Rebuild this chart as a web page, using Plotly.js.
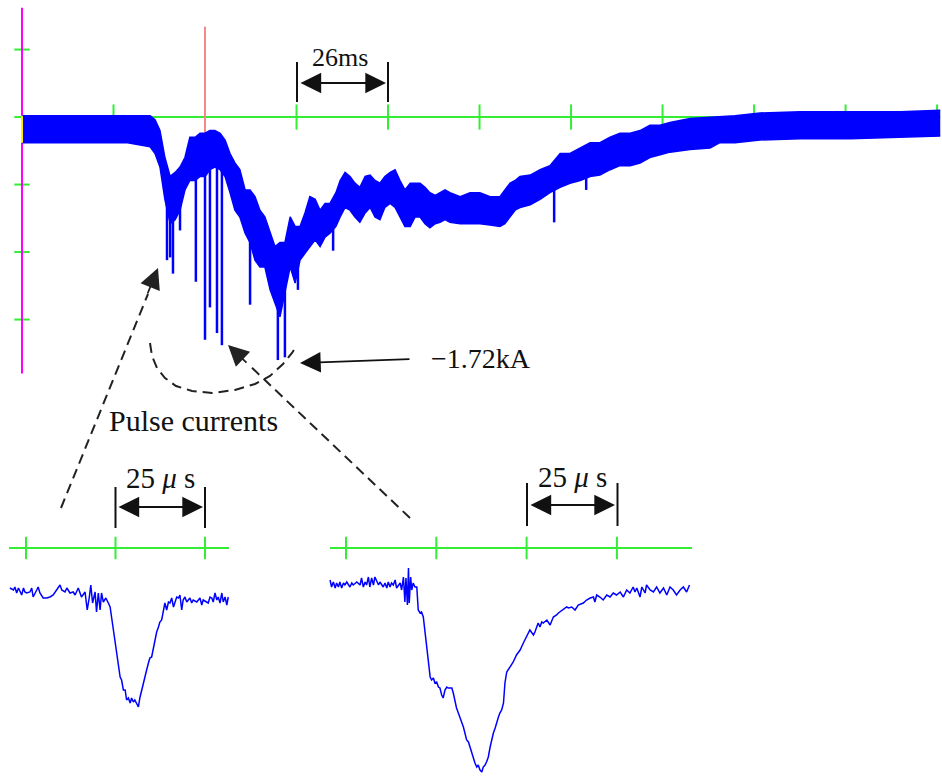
<!DOCTYPE html>
<html><head><meta charset="utf-8">
<script src="https://cdn.plot.ly/plotly-3.0.1.min.js"></script>
<style>html,body{margin:0;padding:0;background:#fff}#chart{width:942px;height:776px}</style>
</head><body><div id="chart"></div>
<script>
// ---- main record: time (ms), current (kA); noisy trace given by its upper/lower band edges
const mainTime = [0, 10.0, 20.0, 30.0, 36.4, 37.8, 39.2, 40.6, 42.1, 43.5, 44.9, 46.3, 47.7, 49.2, 50.6, 52.0, 53.4, 54.8, 56.3, 57.7, 59.1, 60.5, 61.9, 63.4, 64.8, 66.2, 67.6, 69.0, 70.5, 71.9, 73.3, 74.7, 76.2, 77.6, 79.0, 80.4, 81.8, 83.3, 84.7, 86.1, 87.5, 89.2, 90.4, 91.8, 93.2, 94.6, 96.0, 97.5, 98.9, 100.3, 101.7, 103.1, 104.6, 106.0, 107.4, 108.8, 110.3, 111.7, 113.1, 114.5, 115.9, 117.4, 118.8, 120.2, 121.6, 124.5, 127.3, 130.1, 133.0, 135.8, 137.2, 138.7, 140.1, 141.5, 144.4, 147.2, 150.0, 152.9, 155.7, 158.6, 161.4, 164.2, 167.1, 169.9, 172.8, 175.6, 178.4, 181.3, 184.1, 189.8, 195.5, 198.3, 202.6, 209.7, 221.1, 235.3, 249.5, 260.9];
const mainUpper = [0.01, 0.01, 0.01, 0.01, 0.01, -0.02, -0.10, -0.30, -0.44, -0.41, -0.37, -0.30, -0.15, -0.15, -0.12, -0.12, -0.10, -0.10, -0.12, -0.17, -0.27, -0.34, -0.39, -0.54, -0.54, -0.59, -0.69, -0.74, -0.86, -0.96, -0.93, -0.93, -0.74, -0.81, -0.81, -0.71, -0.59, -0.61, -0.69, -0.64, -0.64, -0.56, -0.47, -0.41, -0.44, -0.49, -0.52, -0.44, -0.43, -0.47, -0.49, -0.44, -0.41, -0.39, -0.47, -0.54, -0.49, -0.49, -0.49, -0.52, -0.56, -0.58, -0.56, -0.54, -0.56, -0.59, -0.56, -0.56, -0.59, -0.59, -0.54, -0.49, -0.47, -0.44, -0.43, -0.39, -0.36, -0.27, -0.27, -0.23, -0.19, -0.19, -0.15, -0.12, -0.12, -0.10, -0.06, -0.06, -0.04, -0.01, 0.00, 0.00, 0.01, 0.03, 0.04, 0.04, 0.04, 0.05];
const mainLower = [-0.19, -0.19, -0.19, -0.19, -0.22, -0.27, -0.37, -0.61, -0.79, -0.76, -0.69, -0.54, -0.47, -0.47, -0.44, -0.44, -0.39, -0.37, -0.39, -0.44, -0.56, -0.69, -0.74, -0.86, -0.93, -1.06, -1.11, -1.11, -1.28, -1.38, -1.48, -1.30, -1.11, -1.23, -1.06, -1.01, -0.96, -0.91, -0.96, -0.89, -0.86, -0.81, -0.74, -0.67, -0.69, -0.74, -0.78, -0.71, -0.67, -0.74, -0.76, -0.67, -0.64, -0.67, -0.74, -0.81, -0.81, -0.74, -0.74, -0.79, -0.82, -0.79, -0.78, -0.76, -0.78, -0.79, -0.79, -0.79, -0.80, -0.81, -0.79, -0.74, -0.69, -0.67, -0.65, -0.61, -0.56, -0.52, -0.49, -0.47, -0.44, -0.43, -0.39, -0.36, -0.36, -0.34, -0.30, -0.28, -0.26, -0.24, -0.23, -0.19, -0.19, -0.17, -0.16, -0.16, -0.15, -0.14];
// pulse current spikes (ms, kA)
const spikeTime   = [41.2, 42.1, 42.9, 44.9, 49.4, 52.0, 53.4, 55.4, 56.8, 64.8, 72.7, 74.7, 78.4, 88.4, 151.2, 160.3];
const spikeTop    = [-0.54, -0.61, -0.69, -0.54, -0.32, -0.32, -0.32, -0.32, -0.32, -0.76, -1.28, -1.21, -0.99, -0.76, -0.54, -0.39];
const spikeBottom = [-1.06, -1.04, -1.16, -0.84, -1.22, -1.65, -1.41, -1.60, -1.69, -1.39, -1.80, -1.78, -1.28, -0.99, -0.78, -0.54];
const timeTicks = [26, 52, 78, 104, 130, 156, 182, 208, 234, 260];   // 26 ms / div
const currentTicks = [0.5, 0, -0.5, -1.0, -1.5];                      // 0.5 kA / div
const triggerTime = 52;

// ---- zoomed pulses: time (us), current (kA)
const pulse1Time = [-4.5,-3.5,-3.1,-2.6,-2.1,-1.7,-1.2,-0.7,-0.3,0.2,1.1,1.6,2.0,3.0,3.4,3.9,4.8,5.8,6.7,7.6,8.6,9.5,10.0,10.9,11.4,12.3,13.2,13.7,14.6,15.5,16.5,17.1,17.7,18.1,18.6,19.3,19.7,20.2,20.7,21.1,21.6,22.3,23.0,23.5,23.9,24.4,24.9,25.3,25.8,26.3,26.7,27.2,27.7,28.1,28.6,29.1,29.5,30.0,30.4,30.9,31.4,31.8,32.3,32.8,33.2,33.7,34.2,34.6,35.1,35.6,36.0,36.5,37.0,37.4,37.9,38.4,38.8,39.3,39.8,40.2,40.7,41.2,41.6,42.1,42.6,43.0,43.5,43.9,44.4,44.9,45.8,46.3,46.7,47.7,48.6,49.1,49.5,50.5,50.9,51.4,51.9,52.3,52.8,53.3,53.7,54.2,54.7,55.1,55.6,56.1,56.5];
const pulse1Current = [-0.40,-0.42,-0.39,-0.45,-0.40,-0.44,-0.47,-0.40,-0.44,-0.45,-0.44,-0.40,-0.49,-0.42,-0.39,-0.45,-0.50,-0.50,-0.49,-0.47,-0.42,-0.37,-0.42,-0.44,-0.40,-0.45,-0.44,-0.47,-0.40,-0.49,-0.44,-0.62,-0.49,-0.37,-0.55,-0.44,-0.64,-0.45,-0.62,-0.45,-0.54,-0.50,-0.55,-0.59,-0.69,-0.82,-0.95,-1.05,-1.15,-1.29,-1.32,-1.42,-1.42,-1.52,-1.50,-1.55,-1.50,-1.54,-1.52,-1.55,-1.59,-1.50,-1.42,-1.35,-1.29,-1.22,-1.15,-1.10,-1.09,-0.99,-0.90,-0.84,-0.79,-0.74,-0.72,-0.62,-0.55,-0.62,-0.54,-0.55,-0.50,-0.59,-0.54,-0.49,-0.50,-0.47,-0.62,-0.52,-0.49,-0.54,-0.50,-0.55,-0.52,-0.54,-0.50,-0.57,-0.52,-0.54,-0.55,-0.49,-0.50,-0.54,-0.45,-0.52,-0.49,-0.55,-0.45,-0.54,-0.49,-0.57,-0.49];
const pulse2Time = [-4.4,-4.0,-3.5,-3.0,-2.6,-2.1,-1.7,-1.2,-0.7,-0.3,0.2,1.1,1.6,2.0,3.0,3.9,4.3,4.8,5.3,5.7,6.2,6.6,7.1,7.6,8.0,9.0,9.4,10.3,10.8,11.3,11.7,12.2,12.6,13.1,13.6,14.0,15.0,15.4,15.9,16.3,16.6,17.0,17.3,17.5,17.9,18.2,18.6,19.1,19.6,20.0,20.5,20.9,21.4,21.9,22.3,22.8,23.3,23.7,24.2,24.6,25.1,25.6,26.0,26.5,26.9,27.4,27.9,28.3,29.3,29.7,30.2,30.6,31.1,31.6,32.0,32.5,32.9,33.4,33.9,34.3,34.8,35.3,35.7,36.2,36.6,37.1,37.6,38.0,38.5,38.9,39.4,39.9,40.3,40.8,41.3,41.7,42.2,42.6,43.1,43.6,44.0,44.5,44.9,45.4,46.3,47.2,48.2,49.1,50.0,50.5,50.9,51.9,52.3,53.2,53.7,54.2,54.6,55.6,56.5,57.4,58.3,58.8,59.2,60.2,61.1,61.6,62.5,63.4,64.3,65.7,66.6,67.6,68.5,68.9,69.4,70.3,71.2,72.2,73.1,74.0,74.9,75.9,76.8,77.7,78.6,79.5,80.0,80.5,81.4,81.9,82.8,83.2,84.2,85.1,86.0,86.9,87.9,88.8,89.7,90.6,91.5,92.5,93.4,94.3,95.1];
const pulse2Current = [-0.32,-0.39,-0.34,-0.40,-0.35,-0.39,-0.34,-0.40,-0.35,-0.37,-0.34,-0.39,-0.35,-0.37,-0.34,-0.37,-0.30,-0.39,-0.34,-0.37,-0.29,-0.39,-0.30,-0.37,-0.29,-0.37,-0.34,-0.39,-0.35,-0.40,-0.34,-0.39,-0.35,-0.37,-0.32,-0.40,-0.35,-0.42,-0.29,-0.54,-0.30,-0.57,-0.20,-0.55,-0.29,-0.42,-0.35,-0.39,-0.39,-0.62,-0.65,-0.64,-0.69,-0.85,-1.02,-1.19,-1.29,-1.32,-1.30,-1.35,-1.34,-1.39,-1.40,-1.47,-1.50,-1.42,-1.39,-1.40,-1.40,-1.45,-1.55,-1.60,-1.65,-1.69,-1.74,-1.79,-1.85,-1.92,-1.94,-1.99,-2.05,-2.12,-2.15,-2.19,-2.17,-2.22,-2.24,-2.19,-2.17,-2.14,-2.09,-1.99,-1.92,-1.85,-1.80,-1.74,-1.69,-1.65,-1.62,-1.55,-1.35,-1.24,-1.22,-1.19,-1.14,-1.07,-1.02,-0.95,-0.89,-0.85,-0.82,-0.87,-0.84,-0.75,-0.79,-0.74,-0.75,-0.72,-0.77,-0.69,-0.67,-0.65,-0.64,-0.62,-0.59,-0.60,-0.59,-0.62,-0.57,-0.55,-0.52,-0.50,-0.49,-0.54,-0.47,-0.49,-0.52,-0.47,-0.49,-0.45,-0.47,-0.44,-0.49,-0.42,-0.45,-0.39,-0.44,-0.40,-0.49,-0.39,-0.45,-0.37,-0.42,-0.44,-0.39,-0.45,-0.40,-0.47,-0.39,-0.42,-0.47,-0.42,-0.39,-0.44,-0.37];
const pulse1Ticks = [0, 25, 50];       // 25 us / div
const pulse2Ticks = [0, 25, 50, 75];

// ---------------------------------------------------------------
const GREEN = '#33ee33', BLUE = '#0000ff', INK = '#111';
const W = 942, H = 776;
const fx = p => p / W, fy = p => 1 - p / H;   // decoration placement helpers

function segs(xs, a, b) {
  const X = [], Y = [];
  xs.forEach((x, i) => { X.push(x, x, null); Y.push(a[i], b[i], null); });
  return {X, Y};
}
const sp = segs(spikeTime, spikeTop, spikeBottom);
const tEnd = mainTime[mainTime.length - 1];

const traces = [
  {x: [0, tEnd], y: [0, 0], mode: 'lines', line: {color: GREEN, width: 2}},
  {x: timeTicks, y: timeTicks.map(() => 0), mode: 'markers',
   marker: {symbol: 'line-ns', size: 18, line: {color: GREEN, width: 2}}},
  {x: currentTicks.map(() => 0), y: currentTicks, mode: 'markers',
   marker: {symbol: 'line-ew', size: 11, line: {color: GREEN, width: 2}}},
  {x: [triggerTime, triggerTime], y: [0.67, -0.13], mode: 'lines', line: {color: '#f88888', width: 2}},
  {x: [0, 0], y: [0.81, -1.90], mode: 'lines', line: {color: '#ff00ff', width: 2}},
  {x: mainTime, y: mainUpper, mode: 'lines', line: {color: BLUE, width: 1.5}},
  {x: mainTime, y: mainLower, mode: 'lines', fill: 'tonexty', fillcolor: BLUE, line: {color: BLUE, width: 1.5}},
  {x: sp.X, y: sp.Y, mode: 'lines', line: {color: BLUE, width: 2.5}, connectgaps: false},
  {x: [0, 0], y: [mainUpper[0], mainLower[0]], mode: 'lines', line: {color: '#ffee00', width: 2}},

  {x: [-4.75, 56.7], y: [0, 0], xaxis: 'x2', yaxis: 'y2', mode: 'lines', line: {color: GREEN, width: 2}},
  {x: pulse1Ticks, y: pulse1Ticks.map(() => 0), xaxis: 'x2', yaxis: 'y2', mode: 'markers',
   marker: {symbol: 'line-ns', size: 16, line: {color: GREEN, width: 2}}},
  {x: pulse1Time, y: pulse1Current, xaxis: 'x2', yaxis: 'y2', mode: 'lines', line: {color: BLUE, width: 1.5}},
  {x: [-4.43, 95.8], y: [0, 0], xaxis: 'x3', yaxis: 'y2', mode: 'lines', line: {color: GREEN, width: 2}},
  {x: pulse2Ticks, y: pulse2Ticks.map(() => 0), xaxis: 'x3', yaxis: 'y2', mode: 'markers',
   marker: {symbol: 'line-ns', size: 16, line: {color: GREEN, width: 2}}},
  {x: pulse2Time, y: pulse2Current, xaxis: 'x3', yaxis: 'y2', mode: 'lines', line: {color: BLUE, width: 1.5}}
];

const vbar = (x, y0, y1) => ({type: 'line', xref: 'paper', yref: 'paper', x0: fx(x), x1: fx(x), y0: fy(y0), y1: fy(y1), line: {color: INK, width: 2}});
const dashLine = (a, b) => ({type: 'line', xref: 'paper', yref: 'paper', x0: fx(a[0]), y0: fy(a[1]), x1: fx(b[0]), y1: fy(b[1]), line: {color: '#222', width: 2, dash: '10px,6px'}});
const curvePts = [[150,343],[152,356],[157,368],[165,378],[176,386],[192,391],[212,393],[235,390],[255,384],[270,376],[283,364],[292,353],[297,345]];
const curvePath = 'M ' + curvePts.map(p => fx(p[0]) + ',' + fy(p[1])).join(' L ');

const shapes = [
  vbar(297, 62, 102), vbar(388, 62, 102),
  vbar(115.5, 487, 528), vbar(205, 487, 528),
  vbar(527, 483, 526), vbar(617.5, 483, 526),
  dashLine([61, 508], [148, 294]),
  dashLine([410, 518], [248, 364]),
  {type: 'path', xref: 'paper', yref: 'paper', path: curvePath, line: {color: '#222', width: 2, dash: '10px,6px'}}
];

const HS = 2.3;
const arrowCommon = {text: '', showarrow: true, xref: 'paper', yref: 'paper', arrowhead: 2, arrowsize: HS, arrowwidth: 1.8, arrowcolor: INK, standoff: 0};
const dblArrow = (x0, x1, y) => Object.assign({}, arrowCommon, {x: fx(x1), y: fy(y), ax: -(x1 - x0), ay: 0, arrowside: 'end+start', startarrowhead: 2, startarrowsize: HS});
const label = (t, x, y, size, font) => ({text: t, x: fx(x), y: fy(y), xref: 'paper', yref: 'paper', showarrow: false, xanchor: 'center', yanchor: 'middle', font: {family: font || 'Liberation Serif', size: size, color: INK}});

const annotations = [
  label('26ms', 340, 58, 26),
  dblArrow(299, 386, 83),
  label('\u22121.72kA', 481, 358, 28),
  Object.assign({}, arrowCommon, {x: fx(300), y: fy(363), ax: 111, ay: -4}),
  label('Pulse currents', 193, 421, 30),
  Object.assign({}, arrowCommon, {x: fx(158), y: fy(268), ax: -11, ay: 27, arrowcolor: '#222'}),
  Object.assign({}, arrowCommon, {x: fx(228), y: fy(345), ax: 20, ay: 19, arrowcolor: '#222'}),
  label('25 <i>\u03bc</i> s', 160, 478, 29),
  dblArrow(117, 203, 507),
  label('25 <i>\u03bc</i> s', 572, 477, 29),
  dblArrow(529, 615, 505)
];

const hid = {visible: false, fixedrange: true, showgrid: false, zeroline: false};
const layout = {
  width: W, height: H, margin: {l: 0, r: 0, t: 0, b: 0},
  paper_bgcolor: '#fff', plot_bgcolor: '#fff', showlegend: false, hovermode: false,
  xaxis: Object.assign({domain: [0, 1], range: [-6.25, 261.4]}, hid),
  yaxis: Object.assign({domain: [0, 1], range: [-4.881, 0.867]}, hid),
  xaxis2: Object.assign({overlaying: 'x', anchor: 'y2', range: [-7.26, 255.87]}, hid),
  xaxis3: Object.assign({overlaying: 'x', anchor: 'y2', range: [-95.79, 165.0]}, hid),
  yaxis2: Object.assign({overlaying: 'y', anchor: 'x2', range: [-2.28, 5.48]}, hid),
  shapes: shapes, annotations: annotations
};
Plotly.newPlot('chart', traces, layout, {staticPlot: true, displayModeBar: false});
</script></body></html>
